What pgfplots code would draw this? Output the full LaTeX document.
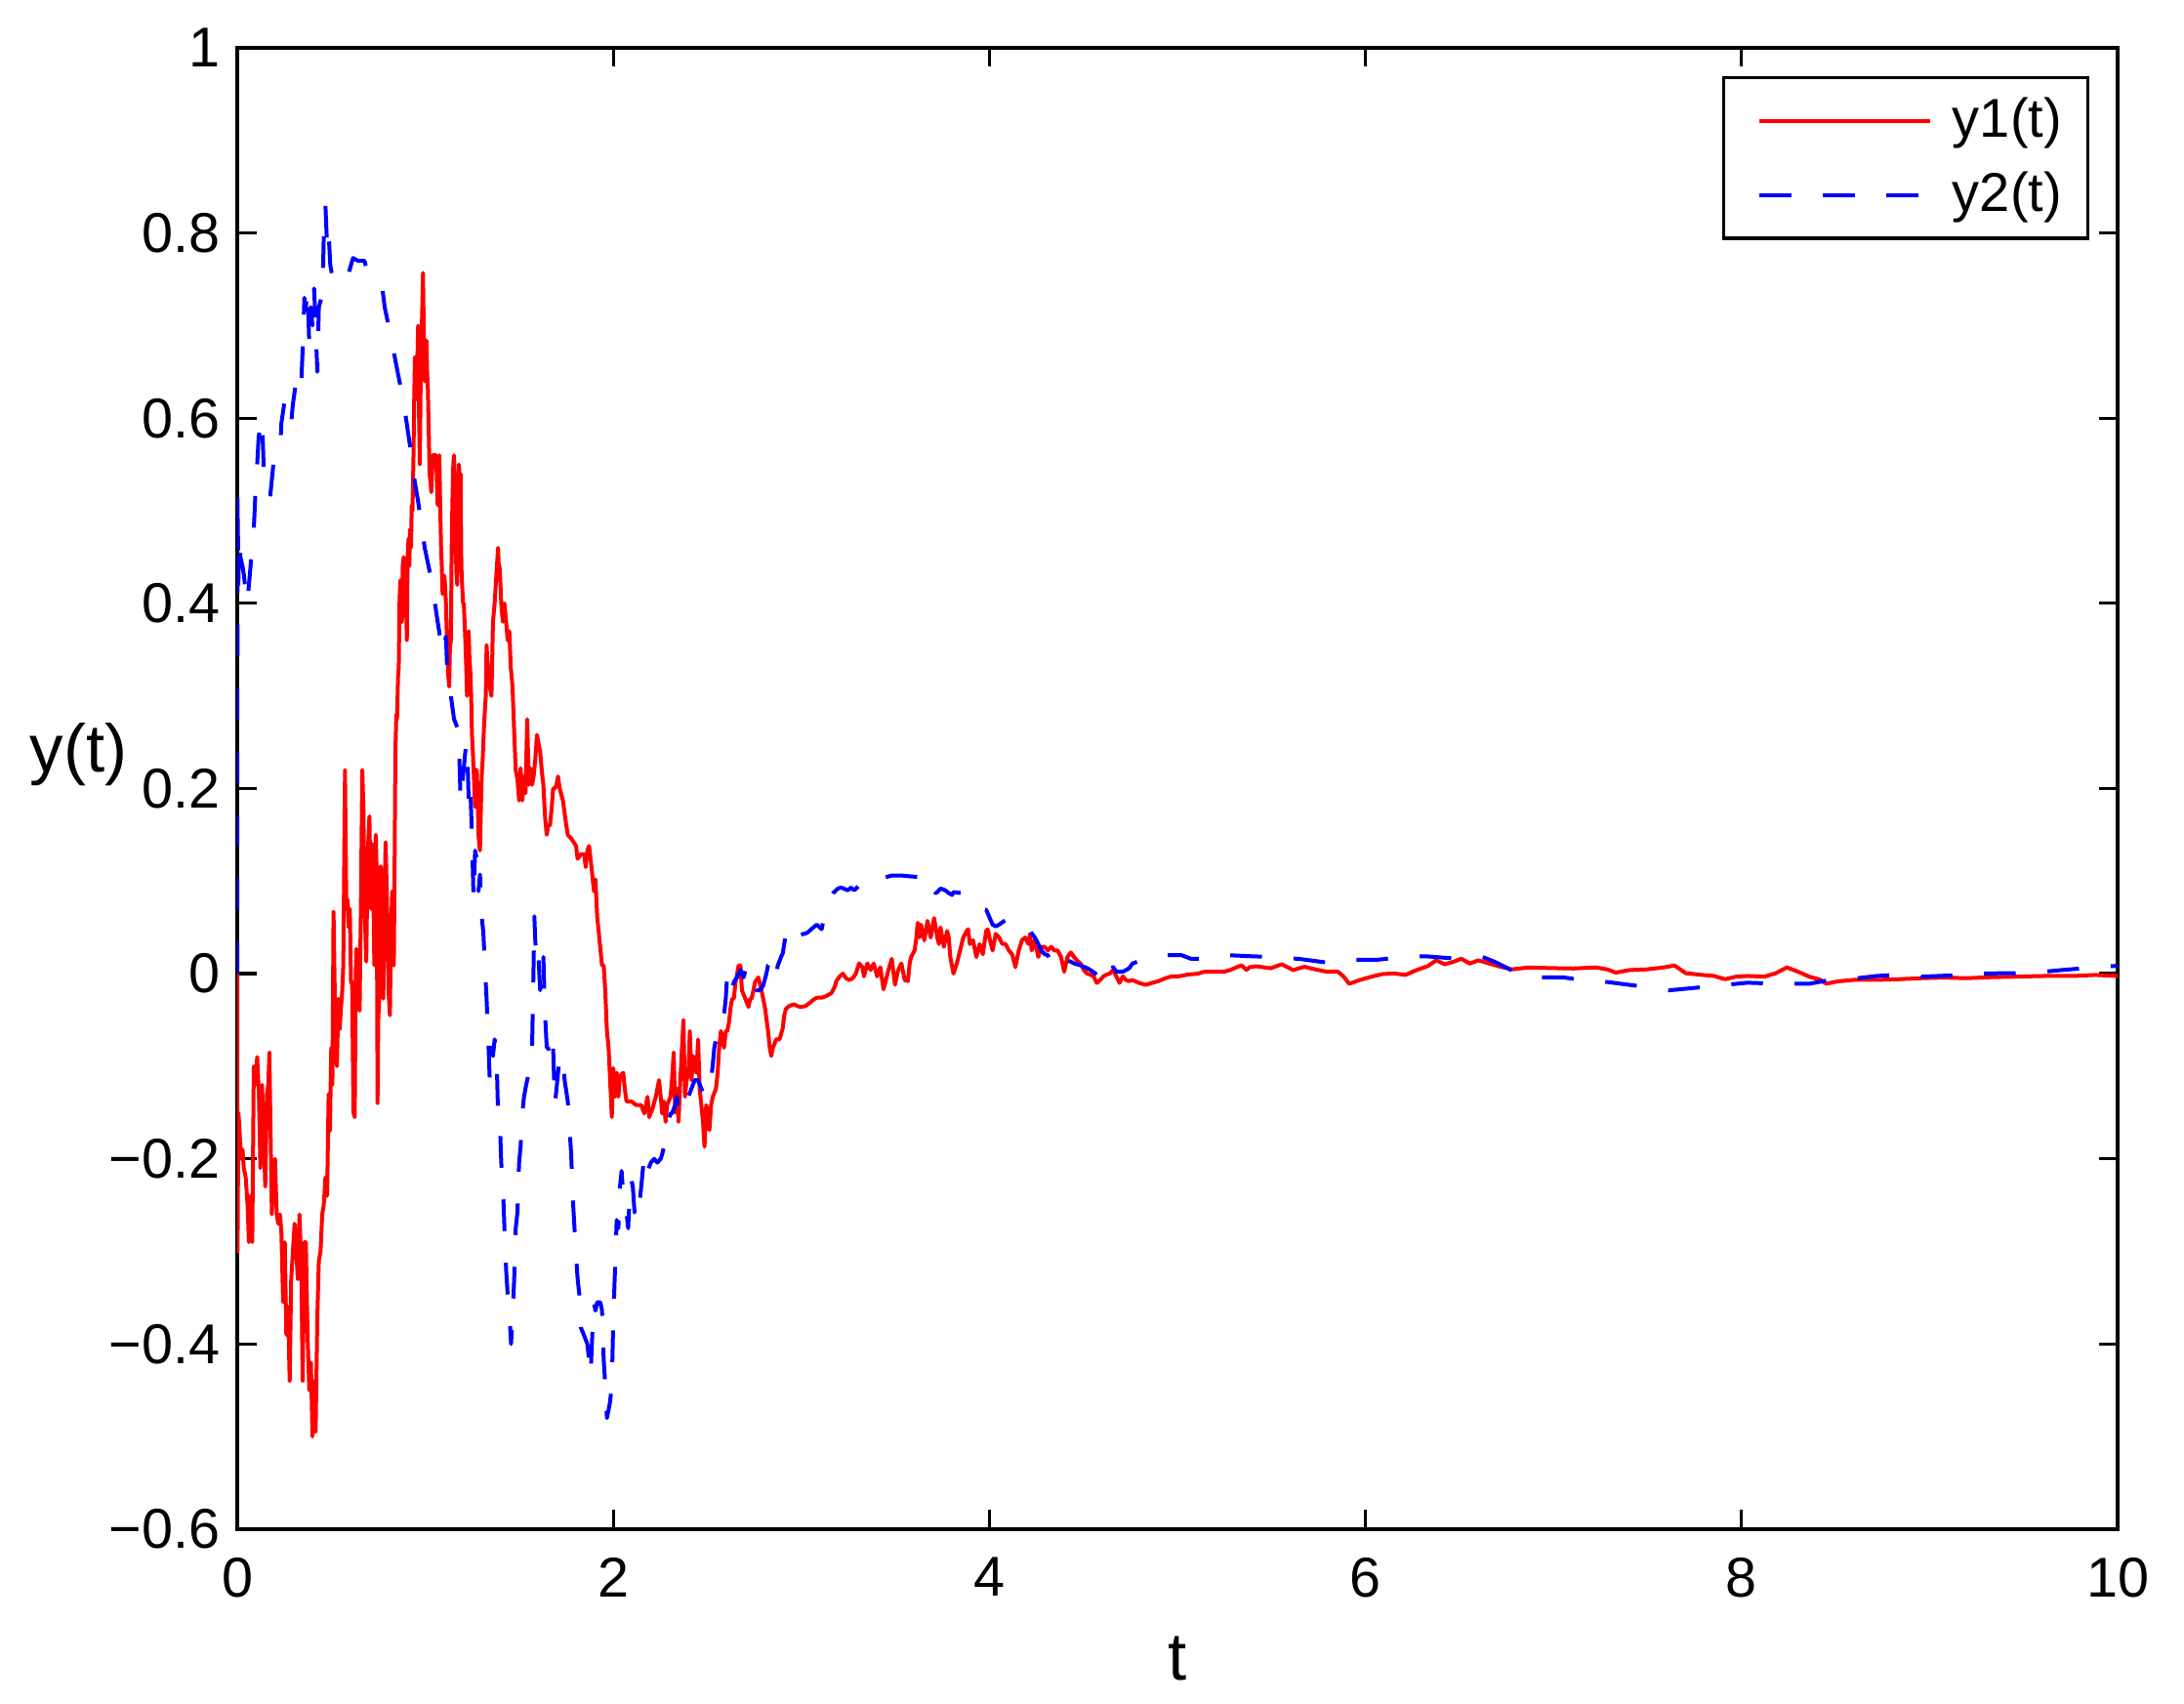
\documentclass[border=0pt]{standalone}
\usepackage{pgfplots}
\pgfplotsset{compat=1.18}
\usepackage{fontspec}
\setmainfont{Liberation Sans}
\begin{document}
\begin{tikzpicture}
\begin{axis}[name=ax,
  scale only axis, width=385.2pt, height=303.4pt,
  xmin=0, xmax=10, ymin=-0.6, ymax=1,
  xtick={0,2,4,6,8,10}, xticklabels={0,2,4,6,8,10},
  ytick={-0.6,-0.4,-0.2,0,0.2,0.4,0.6,0.8,1},
  yticklabels={−0.6,−0.4,−0.2,0,0.2,0.4,0.6,0.8,1},
  tick align=inside, tick pos=both, major tick length=3.9pt,
  every tick/.style={black, line width=0.65pt},
  axis line style={line width=0.65pt},
  tick label style={font=\fontsize{11.5}{13.8}\selectfont},
  xticklabel style={yshift=-2.3pt},
  label style={font=\fontsize{13.8}{16}\selectfont},
  xlabel={t}, xlabel style={at={(axis description cs:0.5,-0.102)}, anchor=base},
  ylabel={y(t)}, ylabel style={rotate=-90, at={(axis description cs:-0.0844,0.523)}, anchor=center},
  legend style={at={(axis description cs:1,1)}, anchor=north east, xshift=-5.8pt, yshift=-5.8pt,
    draw=black, line width=0.65pt, inner xsep=3.3pt, inner ysep=2.4pt,
    font=\fontsize{11.2}{13.8}\selectfont, cells={anchor=west},
    nodes={inner xsep=2pt, inner ysep=1.6pt}, row sep=2.45pt},
  legend image code/.code={\path (0pt,0pt); \draw[#1] (3.7pt,0pt) -- (38.7pt,0pt); \path (40.8pt,0pt);},
]
\addplot[red, line width=0.8pt, line join=round] table {
t y
0 0
0.002 -0.30
0.006 -0.15
0.010 -0.16
0.020 -0.20
0.028 -0.19
0.035 -0.21
0.045 -0.22
0.055 -0.25
0.062 -0.29
0.070 -0.24
0.080 -0.29
0.088 -0.10
0.097 -0.12
0.106 -0.09
0.115 -0.13
0.123 -0.21
0.132 -0.12
0.140 -0.17
0.149 -0.23
0.158 -0.13
0.165 -0.12
0.171 -0.085
0.178 -0.18
0.184 -0.26
0.192 -0.21
0.201 -0.20
0.210 -0.26
0.218 -0.27
0.227 -0.26
0.235 -0.28
0.244 -0.355
0.253 -0.29
0.261 -0.39
0.270 -0.36
0.279 -0.44
0.287 -0.33
0.296 -0.30
0.305 -0.27
0.314 -0.30
0.322 -0.33
0.331 -0.26
0.340 -0.31
0.348 -0.44
0.357 -0.29
0.365 -0.29
0.374 -0.39
0.383 -0.45
0.392 -0.42
0.400 -0.50
0.409 -0.44
0.417 -0.495
0.426 -0.37
0.434 -0.31
0.443 -0.30
0.452 -0.26
0.460 -0.25
0.469 -0.22
0.478 -0.24
0.486 -0.13
0.493 -0.17
0.500 -0.08
0.506 -0.12
0.512 0.067
0.521 -0.05
0.530 -0.10
0.538 -0.027
0.545 -0.06
0.552 -0.036
0.558 -0.02
0.564 0.009
0.573 0.22
0.580 0.08
0.587 0.08
0.593 0.05
0.599 0.07
0.605 -0.01
0.611 -0.009
0.618 -0.15
0.625 -0.155
0.630 0.0
0.634 0.027
0.642 -0.03
0.651 -0.04
0.658 0.08
0.665 0.22
0.671 0.18
0.677 0.08
0.682 0.04
0.686 0.013
0.690 0.07
0.694 0.13
0.703 0.17
0.708 0.10
0.712 0.07
0.716 0.12
0.720 0.14
0.725 0.07
0.729 0.009
0.733 0.10
0.737 0.15
0.742 0.10
0.746 -0.14
0.750 -0.05
0.755 -0.027
0.759 0.10
0.763 0.116
0.770 0.08
0.777 -0.027
0.783 0.08
0.789 0.142
0.794 0.10
0.798 0.062
0.805 -0.02
0.812 -0.045
0.818 0.05
0.824 0.089
0.829 0.05
0.833 0.009
0.837 0.12
0.841 0.240
0.846 0.28
0.850 0.275
0.855 0.32
0.859 0.33
0.863 0.40
0.867 0.425
0.872 0.38
0.876 0.38
0.880 0.44
0.885 0.45
0.889 0.42
0.893 0.418
0.898 0.40
0.902 0.36
0.906 0.45
0.911 0.47
0.915 0.44
0.919 0.48
0.924 0.46
0.928 0.506
0.932 0.50
0.937 0.555
0.941 0.62
0.945 0.666
0.950 0.63
0.954 0.62
0.958 0.66
0.962 0.70
0.967 0.60
0.971 0.55
0.976 0.65
0.980 0.684
0.984 0.72
0.988 0.757
0.993 0.68
0.997 0.64
1.002 0.66
1.006 0.684
1.010 0.65
1.014 0.63
1.019 0.58
1.023 0.54
1.028 0.53
1.032 0.52
1.036 0.54
1.040 0.56
1.049 0.56
1.058 0.56
1.062 0.53
1.066 0.506
1.071 0.53
1.075 0.56
1.080 0.50
1.084 0.46
1.088 0.44
1.092 0.41
1.097 0.43
1.101 0.43
1.105 0.42
1.110 0.40
1.114 0.37
1.118 0.35
1.123 0.32
1.127 0.31
1.131 0.35
1.136 0.36
1.140 0.45
1.144 0.506
1.149 0.55
1.153 0.56
1.158 0.52
1.162 0.46
1.166 0.43
1.170 0.42
1.175 0.50
1.179 0.55
1.184 0.53
1.188 0.54
1.192 0.44
1.196 0.42
1.201 0.40
1.205 0.40
1.209 0.38
1.213 0.36
1.218 0.33
1.222 0.30
1.227 0.35
1.231 0.37
1.235 0.34
1.239 0.33
1.244 0.30
1.248 0.26
1.253 0.24
1.257 0.22
1.261 0.20
1.265 0.18
1.270 0.22
1.274 0.22
1.279 0.19
1.283 0.15
1.287 0.14
1.291 0.133
1.296 0.18
1.300 0.213
1.305 0.23
1.309 0.25
1.313 0.27
1.317 0.284
1.322 0.30
1.326 0.355
1.330 0.34
1.335 0.33
1.343 0.31
1.352 0.30
1.360 0.38
1.369 0.40
1.378 0.43
1.387 0.46
1.391 0.44
1.395 0.44
1.400 0.42
1.404 0.40
1.408 0.39
1.413 0.38
1.417 0.39
1.421 0.40
1.430 0.38
1.438 0.36
1.447 0.37
1.455 0.33
1.464 0.31
1.473 0.26
1.481 0.22
1.490 0.21
1.499 0.187
1.507 0.222
1.516 0.187
1.525 0.213
1.533 0.195
1.542 0.275
1.551 0.204
1.559 0.222
1.568 0.204
1.576 0.213
1.585 0.231
1.594 0.258
1.602 0.249
1.611 0.24
1.620 0.218
1.628 0.204
1.637 0.169
1.646 0.15
1.654 0.16
1.663 0.16
1.672 0.178
1.680 0.20
1.689 0.20
1.698 0.204
1.706 0.213
1.715 0.20
1.732 0.187
1.750 0.16
1.758 0.15
1.776 0.146
1.802 0.138
1.810 0.124
1.827 0.129
1.845 0.129
1.853 0.115
1.862 0.133
1.871 0.138
1.879 0.124
1.888 0.107
1.897 0.089
1.905 0.102
1.914 0.062
1.923 0.044
1.931 0.027
1.940 0.009
1.949 0.009
1.957 -0.018
1.966 -0.062
1.975 -0.080
1.983 -0.115
1.992 -0.155
2.000 -0.102
2.009 -0.133
2.018 -0.107
2.027 -0.133
2.035 -0.111
2.053 -0.107
2.061 -0.124
2.070 -0.138
2.096 -0.138
2.122 -0.142
2.148 -0.142
2.165 -0.151
2.182 -0.133
2.191 -0.155
2.208 -0.146
2.226 -0.133
2.243 -0.115
2.252 -0.133
2.260 -0.151
2.269 -0.138
2.278 -0.160
2.286 -0.142
2.304 -0.133
2.312 -0.115
2.321 -0.085
2.329 -0.15
2.338 -0.124
2.347 -0.16
2.355 -0.12
2.373 -0.05
2.381 -0.133
2.390 -0.115
2.399 -0.107
2.407 -0.062
2.416 -0.115
2.425 -0.089
2.442 -0.107
2.451 -0.071
2.459 -0.124
2.468 -0.142
2.477 -0.160
2.485 -0.187
2.494 -0.142
2.503 -0.151
2.511 -0.169
2.520 -0.142
2.529 -0.133
2.546 -0.124
2.555 -0.107
2.563 -0.080
2.572 -0.062
2.589 -0.080
2.598 -0.062
2.606 -0.062
2.615 -0.053
2.624 -0.036
2.632 -0.027
2.641 -0.027
2.650 -0.009
2.667 0.009
2.676 0.009
2.684 -0.018
2.702 -0.027
2.719 -0.036
2.728 -0.027
2.736 -0.027
2.754 -0.009
2.771 -0.004
2.788 -0.018
2.806 -0.036
2.823 -0.062
2.832 -0.080
2.840 -0.089
2.849 -0.080
2.866 -0.071
2.884 -0.071
2.901 -0.059
2.909 -0.045
2.918 -0.038
2.935 -0.035
2.961 -0.033
2.979 -0.035
2.996 -0.036
3.022 -0.035
3.048 -0.031
3.065 -0.028
3.082 -0.026
3.108 -0.026
3.134 -0.024
3.160 -0.021
3.178 -0.014
3.186 -0.008
3.204 -0.003
3.221 0.000
3.238 -0.005
3.255 -0.007
3.273 -0.005
3.290 0.000
3.307 0.011
3.325 0.007
3.333 -0.003
3.351 0.011
3.368 0.004
3.385 0.011
3.403 -0.003
3.420 0.007
3.437 -0.017
3.446 -0.010
3.463 0.004
3.481 0.016
3.498 -0.012
3.515 0.004
3.532 0.011
3.550 -0.007
3.567 -0.008
3.576 0.011
3.584 0.018
3.602 0.025
3.610 0.036
3.619 0.055
3.628 0.039
3.636 0.053
3.654 0.036
3.671 0.057
3.688 0.039
3.706 0.060
3.723 0.039
3.732 0.032
3.740 0.050
3.758 0.029
3.775 0.046
3.784 0.039
3.792 0.018
3.809 0.000
3.827 0.011
3.844 0.025
3.861 0.039
3.879 0.046
3.887 0.048
3.896 0.032
3.913 0.036
3.931 0.018
3.948 0.032
3.965 0.021
3.983 0.046
3.991 0.048
4.000 0.039
4.017 0.025
4.034 0.043
4.052 0.039
4.069 0.032
4.086 0.032
4.104 0.025
4.121 0.021
4.138 0.007
4.156 0.025
4.173 0.036
4.190 0.039
4.208 0.032
4.216 0.043
4.225 0.025
4.242 0.036
4.260 0.018
4.277 0.029
4.294 0.029
4.311 0.025
4.329 0.029
4.346 0.025
4.363 0.025
4.381 0.018
4.398 0.002
4.415 0.018
4.433 0.023
4.450 0.018
4.467 0.014
4.485 0.011
4.502 0.004
4.519 0.000
4.537 -0.001
4.554 -0.003
4.571 -0.010
4.588 -0.007
4.606 -0.003
4.623 -0.001
4.640 0.000
4.658 0.004
4.675 -0.003
4.692 -0.010
4.710 -0.003
4.727 -0.007
4.744 -0.008
4.761 -0.007
4.796 -0.010
4.831 -0.012
4.865 -0.010
4.900 -0.008
4.935 -0.005
4.969 -0.003
5.004 -0.003
5.056 -0.001
5.108 0.000
5.142 0.002
5.194 0.002
5.246 0.002
5.281 0.004
5.315 0.007
5.341 0.009
5.367 0.004
5.384 0.007
5.419 0.008
5.454 0.007
5.496 0.0058
5.555 0.0102
5.615 0.0039
5.675 0.0074
5.734 0.0046
5.794 0.0021
5.854 0.0021
5.884 -0.0032
5.913 -0.0109
5.973 -0.0067
6.033 -0.0032
6.092 -0.0004
6.152 0.0003
6.212 -0.0014
6.272 0.0039
6.331 0.0081
6.376 0.0144
6.421 0.0102
6.465 0.0126
6.510 0.0161
6.555 0.0109
6.600 0.0144
6.659 0.0109
6.719 0.0074
6.779 0.0046
6.868 0.0067
6.988 0.0060
7.107 0.0056
7.226 0.0067
7.286 0.0046
7.331 0.0011
7.405 0.0039
7.495 0.0046
7.584 0.0067
7.644 0.0088
7.704 0.0004
7.793 -0.0014
7.853 -0.0025
7.913 -0.0060
7.972 -0.0032
8.032 -0.0025
8.122 -0.0032
8.181 0.0004
8.241 0.0067
8.301 0.0021
8.360 -0.0032
8.420 -0.0067
8.450 -0.0109
8.510 -0.0084
8.599 -0.0067
8.718 -0.0067
8.838 -0.0060
8.957 -0.0049
9.076 -0.0042
9.196 -0.0049
9.315 -0.0039
9.464 -0.0032
9.614 -0.0025
9.763 -0.0025
9.882 -0.0014
10.0 -0.0025
};
\addlegendentry{y1(t)}
\addplot[blue, line width=0.8pt, line join=round, dash pattern=on 6.5pt off 6.5pt] table {
t y
0 0
0.001 0.26
0.002 0.52
0.006 0.42
0.010 0.47
0.017 0.45
0.028 0.44
0.036 0.43
0.045 0.41
0.054 0.40
0.062 0.42
0.071 0.44
0.080 0.47
0.088 0.48
0.097 0.52
0.106 0.55
0.114 0.58
0.132 0.60
0.140 0.55
0.158 0.52
0.175 0.515
0.192 0.55
0.210 0.555
0.227 0.56
0.235 0.595
0.253 0.62
0.270 0.61
0.287 0.595
0.296 0.615
0.313 0.64
0.331 0.64
0.339 0.63
0.348 0.675
0.357 0.73
0.365 0.72
0.374 0.74
0.383 0.68
0.391 0.72
0.400 0.70
0.409 0.74
0.426 0.65
0.434 0.72
0.448 0.73
0.455 0.745
0.460 0.795
0.469 0.83
0.478 0.785
0.486 0.80
0.495 0.765
0.504 0.755
0.521 0.765
0.547 0.76
0.573 0.76
0.590 0.755
0.616 0.773
0.642 0.77
0.677 0.77
0.694 0.755
0.720 0.75
0.746 0.745
0.772 0.74
0.784 0.72
0.815 0.69
0.850 0.653
0.885 0.617
0.919 0.57
0.945 0.53
0.962 0.51
0.997 0.46
1.032 0.426
1.066 0.38
1.092 0.346
1.110 0.364
1.118 0.32
1.136 0.30
1.153 0.275
1.170 0.266
1.179 0.249
1.188 0.186
1.196 0.204
1.205 0.222
1.213 0.24
1.222 0.25
1.231 0.186
1.239 0.204
1.248 0.151
1.257 0.08
1.265 0.133
1.274 0.124
1.283 0.089
1.291 0.107
1.300 0.062
1.309 0.044
1.317 0.009
1.326 -0.027
1.335 -0.071
1.343 -0.115
1.352 -0.08
1.360 -0.089
1.369 -0.071
1.378 -0.08
1.387 -0.151
1.395 -0.151
1.404 -0.204
1.413 -0.231
1.421 -0.275
1.430 -0.32
1.438 -0.346
1.447 -0.364
1.456 -0.40
1.464 -0.373
1.473 -0.329
1.481 -0.275
1.490 -0.258
1.499 -0.204
1.507 -0.187
1.516 -0.151
1.525 -0.133
1.533 -0.124
1.542 -0.115
1.551 -0.107
1.559 -0.098
1.568 -0.080
1.576 0.009
1.580 0.062
1.585 0.036
1.594 0.009
1.602 0.018
1.611 -0.018
1.620 0.009
1.628 0.018
1.637 -0.044
1.646 -0.080
1.654 -0.080
1.663 -0.098
1.680 -0.080
1.689 -0.142
1.698 -0.124
1.715 -0.089
1.732 -0.089
1.741 -0.115
1.758 -0.138
1.776 -0.195
1.784 -0.240
1.801 -0.302
1.810 -0.329
1.819 -0.346
1.827 -0.382
1.845 -0.391
1.862 -0.40
1.871 -0.417
1.879 -0.435
1.888 -0.391
1.897 -0.355
1.905 -0.364
1.914 -0.355
1.931 -0.355
1.940 -0.364
1.949 -0.417
1.957 -0.444
1.966 -0.480
1.975 -0.471
1.983 -0.462
1.992 -0.444
2.000 -0.373
2.009 -0.320
2.018 -0.266
2.027 -0.275
2.035 -0.231
2.044 -0.213
2.053 -0.240
2.061 -0.249
2.070 -0.258
2.079 -0.275
2.087 -0.240
2.096 -0.222
2.104 -0.231
2.113 -0.258
2.122 -0.249
2.130 -0.240
2.139 -0.249
2.148 -0.231
2.165 -0.195
2.182 -0.213
2.200 -0.204
2.217 -0.200
2.234 -0.204
2.252 -0.200
2.260 -0.195
2.269 -0.187
2.278 -0.173
2.286 -0.169
2.304 -0.151
2.312 -0.151
2.329 -0.142
2.338 -0.133
2.347 -0.151
2.355 -0.151
2.373 -0.142
2.381 -0.133
2.399 -0.133
2.416 -0.124
2.433 -0.115
2.451 -0.115
2.468 -0.124
2.485 -0.133
2.503 -0.129
2.520 -0.115
2.529 -0.098
2.537 -0.080
2.555 -0.062
2.572 -0.062
2.580 -0.053
2.589 -0.044
2.598 -0.027
2.606 0.000
2.615 0.000
2.624 -0.009
2.632 -0.018
2.641 -0.009
2.658 -0.004
2.667 0.000
2.676 0.004
2.693 -0.004
2.710 0.009
2.728 0.000
2.736 -0.009
2.745 -0.013
2.762 -0.018
2.780 -0.018
2.797 -0.013
2.814 0.000
2.823 0.009
2.840 0.013
2.858 0.018
2.866 0.000
2.875 0.009
2.892 0.018
2.901 0.022
2.909 0.032
2.918 0.043
2.935 0.050
2.953 0.039
2.979 0.041
3.013 0.043
3.030 0.044
3.082 0.053
3.108 0.048
3.117 0.057
3.134 0.067
3.143 0.078
3.152 0.081
3.169 0.087
3.195 0.092
3.212 0.093
3.247 0.090
3.264 0.093
3.281 0.090
3.342 0.102
3.368 0.100
3.394 0.102
3.411 0.104
3.446 0.104
3.481 0.106
3.532 0.106
3.584 0.105
3.645 0.104
3.662 0.108
3.680 0.106
3.697 0.095
3.714 0.087
3.723 0.088
3.740 0.092
3.766 0.090
3.784 0.087
3.801 0.085
3.809 0.088
3.853 0.087
3.879 0.083
3.896 0.078
3.913 0.073
3.948 0.069
3.983 0.069
4.017 0.053
4.034 0.051
4.052 0.053
4.086 0.058
4.104 0.055
4.121 0.051
4.156 0.053
4.190 0.051
4.216 0.046
4.242 0.039
4.260 0.032
4.277 0.025
4.294 0.021
4.311 0.020
4.329 0.011
4.346 0.018
4.363 0.018
4.381 0.016
4.398 0.011
4.415 0.014
4.433 0.013
4.450 0.011
4.485 0.009
4.519 0.006
4.537 0.004
4.571 -0.001
4.588 0.004
4.606 0.013
4.623 0.002
4.658 0.007
4.675 0.002
4.710 0.002
4.744 0.006
4.761 0.011
4.831 0.016
4.865 0.018
4.900 0.020
5.021 0.020
5.073 0.016
5.142 0.016
5.263 0.020
5.367 0.019
5.496 0.018
5.555 0.017
5.645 0.016
5.809 0.0116
5.854 0.0144
5.913 0.015
6.063 0.015
6.227 0.0186
6.331 0.0186
6.496 0.016
6.615 0.0186
6.689 0.0127
6.809 0.0004
6.868 -0.0032
6.928 -0.0039
7.047 -0.0039
7.167 -0.0074
7.286 -0.009
7.361 -0.011
7.495 -0.0144
7.614 -0.018
7.763 -0.0151
7.883 -0.0127
8.032 -0.0098
8.196 -0.0109
8.360 -0.0109
8.495 -0.006
8.599 -0.0053
8.718 -0.0025
8.778 -0.0018
8.913 -0.0007
8.957 -0.0032
9.047 -0.0025
9.166 -0.0014
9.256 0.0003
9.435 0.0004
9.569 0.0014
9.703 0.0039
9.868 0.0067
10.0 0.0085
};
\addlegendentry{y2(t)}
\end{axis}
\pgfresetboundingbox
\path ([shift={(-48.6pt,-35.8pt)}]ax.south west) rectangle ([shift={(13.6pt,9.8pt)}]ax.north east);
\end{tikzpicture}
\end{document}
